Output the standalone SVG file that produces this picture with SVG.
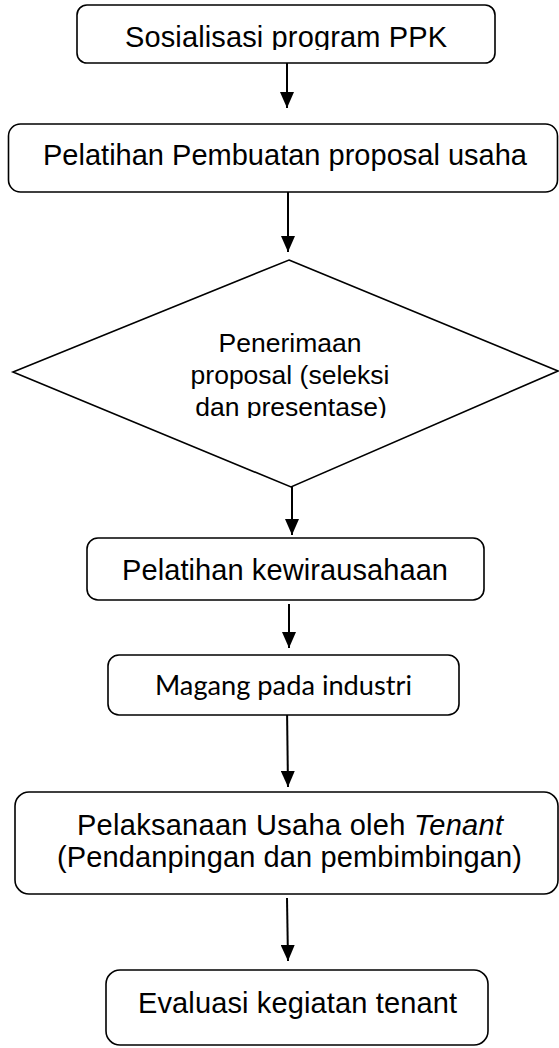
<svg xmlns="http://www.w3.org/2000/svg" width="559" height="1048" viewBox="0 0 559 1048">
<style>
.box{fill:#fff;stroke:#000;stroke-width:1.6}
.t{font-family:"Liberation Sans",Arial,sans-serif;font-size:29px;fill:#000;text-anchor:middle}
.d{font-family:"Liberation Sans",Arial,sans-serif;font-size:26.5px;fill:#000;text-anchor:middle}
.c{font-family:Lato,"Open Sans",sans-serif;font-size:26px;fill:#000;text-anchor:middle}
.ln{stroke:#000;stroke-width:2;fill:none}
</style>
<defs>
<marker id="ah" viewBox="0 0 16 14" refX="16" refY="7" markerWidth="16" markerHeight="14" markerUnits="userSpaceOnUse" orient="auto">
<path d="M0,0 L16,7 L0,14 Z" fill="#000"/>
</marker>
<clipPath id="c1"><rect x="77" y="5" width="418" height="45"/></clipPath>
<clipPath id="c3"><rect x="150" y="320" width="280" height="98"/></clipPath>
</defs>
<g id="connectors">
<line class="ln" x1="287" y1="63" x2="287" y2="108" marker-end="url(#ah)"/>
<line class="ln" x1="288" y1="192" x2="288" y2="252" marker-end="url(#ah)"/>
<line class="ln" x1="292" y1="487" x2="292" y2="535" marker-end="url(#ah)"/>
<line class="ln" x1="289" y1="604" x2="289" y2="648" marker-end="url(#ah)"/>
<line class="ln" x1="287" y1="708" x2="288" y2="787" marker-end="url(#ah)"/>
<line class="ln" x1="287" y1="898" x2="288" y2="961" marker-end="url(#ah)"/>
</g>
<g id="n1">
<rect class="box" x="77" y="5" width="418" height="58" rx="10"/>
<text class="t" x="286" y="47" textLength="322" clip-path="url(#c1)">Sosialisasi program PPK</text>
</g>
<g id="n2">
<rect class="box" x="8.5" y="124" width="549" height="68" rx="12"/>
<text class="t" x="285" y="165" textLength="484">Pelatihan Pembuatan proposal usaha</text>
</g>
<g id="n3">
<polygon class="box" points="289,260 558,371 291,487 13,372"/>
<g clip-path="url(#c3)">
<text class="d" x="290" y="352">Penerimaan</text>
<text class="d" x="290" y="384">proposal (seleksi</text>
<text class="d" x="291" y="416">dan presentase)</text>
</g>
</g>
<g id="n4">
<rect class="box" x="87" y="538" width="397" height="62" rx="11"/>
<text class="t" x="285" y="580" textLength="326">Pelatihan kewirausahaan</text>
</g>
<g id="n5">
<rect class="box" x="108" y="655" width="351" height="60" rx="11"/>
<text class="c" x="283.5" y="695" textLength="257" lengthAdjust="spacingAndGlyphs">Magang pada industri</text>
</g>
<g id="n6">
<rect class="box" x="15" y="792" width="543" height="102" rx="14"/>
<text class="t" x="290" y="835" textLength="426">Pelaksanaan Usaha oleh <tspan font-style="italic">Tenant</tspan></text>
<text class="t" x="289.5" y="867" textLength="465">(Pendanpingan dan pembimbingan)</text>
</g>
<g id="n7">
<rect class="box" x="106" y="970" width="382" height="75" rx="14"/>
<text class="t" x="297.5" y="1013" textLength="319">Evaluasi kegiatan tenant</text>
</g>
</svg>
